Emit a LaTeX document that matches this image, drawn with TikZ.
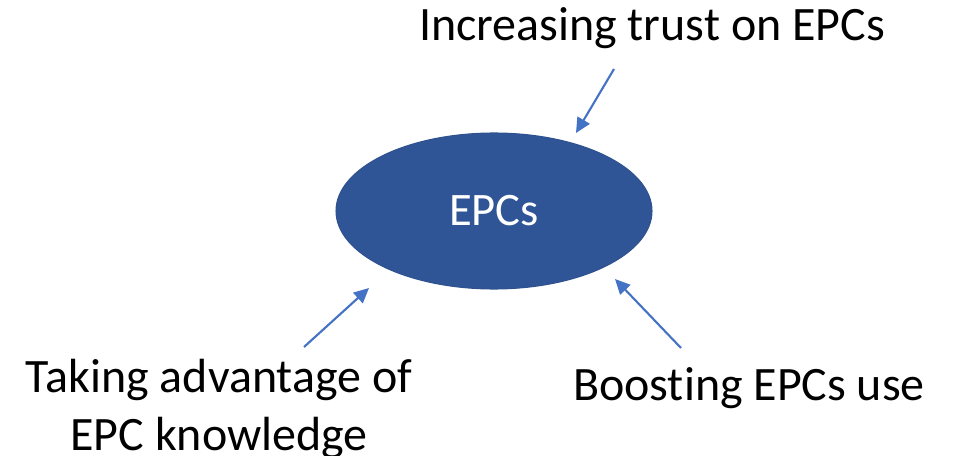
\documentclass[tikz,border=0pt]{standalone}
\usepackage{fontspec}
\setmainfont{Carlito}[RawFeature=-liga]
\usepackage{xcolor}
\usepackage{tikz}
\usetikzlibrary{shapes.geometric, arrows.meta}
\definecolor{epcblue}{HTML}{2F5597}
\definecolor{epcline}{HTML}{2F528F}
\definecolor{arrowblue}{HTML}{4472C4}
\tikzstyle{arrow} = [arrowblue,line width=1.2pt,-{Triangle[length=0.3cm,width=0.28cm]}]
\tikzstyle{label} = [font=\fontsize{27.3}{33}\selectfont,align=center,inner sep=0pt]

\begin{document}
\begin{tikzpicture}[x=0.02cm,y=-0.02cm]
	\useasboundingbox (0,0) rectangle (954,456);

	% Central ellipse:
	\node [ellipse, fill=epcblue, draw=epcline, line width=0.6pt, minimum width=316*0.02cm, minimum height=156*0.02cm, inner sep=0pt,
	       text=white, font=\fontsize{26.5}{30}\selectfont] (epcs) at (494,211) {EPCs};

	% Labels:
	\node [label, anchor=base] (trust) at (652,41) {Increasing trust on EPCs};
	\node [label, anchor=base] (boost) at (749,400) {Boosting EPCs use};
	\node [label] (advantage) at (219,409) {Taking advantage of\\EPC knowledge};

	% Arrow ends:
	\coordinate (trustfrom) at (614,69);
	\coordinate (trustto) at (576,133);
	\coordinate (advfrom) at (304,347);
	\coordinate (advto) at (369,288);
	\coordinate (boostfrom) at (681,348);
	\coordinate (boostto) at (615,279);

	\foreach \n in {trust,adv,boost}
	{
		\draw [arrow] (\n from) -- (\n to);
	}
\end{tikzpicture}
\end{document}
